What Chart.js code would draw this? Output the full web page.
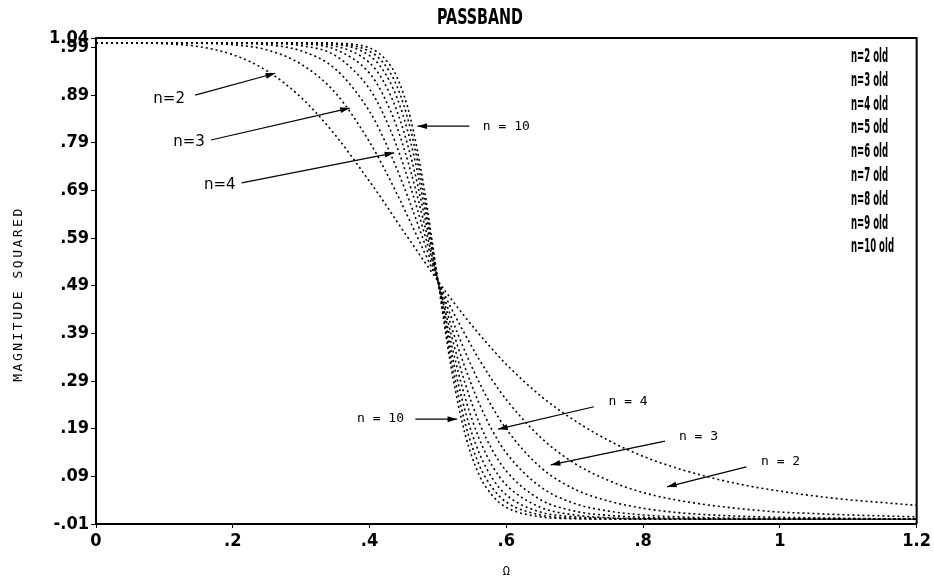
<!DOCTYPE html>
<html>
<head>
<meta charset="utf-8">
<script src="https://cdn.jsdelivr.net/npm/chart.js@4.4.1/dist/chart.umd.min.js"></script>
<style>
  html, body { margin: 0; padding: 0; background: #fff; }
  #wrap { width: 934px; height: 579px; }
</style>
</head>
<body>
<div id="wrap"><canvas id="grafico"></canvas></div>
<script>
// === dados ===
var omega = [0, 0.05, 0.1, 0.15, 0.2, 0.25, 0.3, 0.35, 0.4, 0.42, 0.44, 0.46, 0.48, 0.5,
  0.52, 0.54, 0.56, 0.58, 0.6, 0.65, 0.7, 0.75, 0.8, 0.85, 0.9, 0.95, 1.0, 1.05, 1.1, 1.15, 1.2];

var mag2 = [1, 1, 0.998, 0.992, 0.975, 0.941, 0.885, 0.806, 0.709, 0.668, 0.625, 0.583, 0.541, 0.5,
  0.461, 0.424, 0.389, 0.356, 0.325, 0.259, 0.207, 0.165, 0.132, 0.107, 0.087, 0.071, 0.059, 0.049, 0.041, 0.035, 0.029];
var mag3 = [1, 1, 1, 0.999, 0.996, 0.985, 0.955, 0.895, 0.792, 0.74, 0.683, 0.623, 0.561, 0.5,
  0.441, 0.387, 0.336, 0.291, 0.251, 0.172, 0.117, 0.081, 0.056, 0.04, 0.029, 0.021, 0.015, 0.012, 0.009, 0.007, 0.005];
var mag4 = [1, 1, 1, 1, 0.999, 0.996, 0.983, 0.945, 0.856, 0.801, 0.735, 0.661, 0.581, 0.5,
  0.422, 0.351, 0.288, 0.234, 0.189, 0.109, 0.063, 0.038, 0.023, 0.014, 0.009, 0.006, 0.004, 0.003, 0.002, 0.001, 0.001];
var mag5 = [1, 1, 1, 1, 1, 0.999, 0.994, 0.973, 0.903, 0.851, 0.782, 0.697, 0.601, 0.5,
  0.403, 0.317, 0.244, 0.185, 0.139, 0.068, 0.033, 0.017, 0.009, 0.005, 0.003, 0.002, 0.001, 0.001, 0, 0, 0];
var mag6 = [1, 1, 1, 1, 1, 1, 0.998, 0.986, 0.936, 0.89, 0.823, 0.731, 0.62, 0.5,
  0.384, 0.284, 0.204, 0.144, 0.101, 0.041, 0.017, 0.008, 0.004, 0.002, 0.001, 0, 0, 0, 0, 0, 0];
var mag7 = [1, 1, 1, 1, 1, 1, 0.999, 0.993, 0.958, 0.92, 0.857, 0.763, 0.639, 0.5,
  0.366, 0.254, 0.17, 0.111, 0.072, 0.025, 0.009, 0.003, 0.001, 0.001, 0, 0, 0, 0, 0, 0, 0];
var mag8 = [1, 1, 1, 1, 1, 1, 1, 0.997, 0.973, 0.942, 0.885, 0.792, 0.658, 0.5,
  0.348, 0.226, 0.14, 0.085, 0.051, 0.015, 0.005, 0.002, 0.001, 0, 0, 0, 0, 0, 0, 0, 0];
var mag9 = [1, 1, 1, 1, 1, 1, 1, 0.998, 0.982, 0.958, 0.909, 0.818, 0.676, 0.5,
  0.33, 0.2, 0.115, 0.065, 0.036, 0.009, 0.002, 0.001, 0, 0, 0, 0, 0, 0, 0, 0, 0];
var mag10 = [1, 1, 1, 1, 1, 1, 1, 0.999, 0.989, 0.97, 0.928, 0.841, 0.693, 0.5,
  0.313, 0.177, 0.094, 0.049, 0.025, 0.005, 0.001, 0, 0, 0, 0, 0, 0, 0, 0, 0, 0];

var seriesLabels = ['n=2 old', 'n=3 old', 'n=4 old', 'n=5 old', 'n=6 old', 'n=7 old', 'n=8 old', 'n=9 old', 'n=10 old'];
var seriesValues = [mag2, mag3, mag4, mag5, mag6, mag7, mag8, mag9, mag10];

var xTickValues = [0, 0.2, 0.4, 0.6, 0.8, 1, 1.2];
var xTickLabels = ['0', '.2', '.4', '.6', '.8', '1', '1.2'];
var yTickValues = [-0.01, 0.09, 0.19, 0.29, 0.39, 0.49, 0.59, 0.69, 0.79, 0.89, 0.99, 1.01];
var yTickLabels = ['-.01', '.09', '.19', '.29', '.39', '.49', '.59', '.69', '.79', '.89', '.99', '1.04'];

// setas com texto (coordenadas em unidades dos eixos)
var notas = [
  { txt: 'n=2',    tx: 0.107, ty: 0.882, x1: 0.145, y1: 0.890, x2: 0.262, y2: 0.936, big: true },
  { txt: 'n=3',    tx: 0.136, ty: 0.792, x1: 0.168, y1: 0.796, x2: 0.371, y2: 0.863, big: true },
  { txt: 'n=4',    tx: 0.181, ty: 0.701, x1: 0.213, y1: 0.706, x2: 0.436, y2: 0.769, big: true },
  { txt: 'n = 10', tx: 0.600, ty: 0.825, x1: 0.546, y1: 0.825, x2: 0.470, y2: 0.825 },
  { txt: 'n = 10', tx: 0.416, ty: 0.212, x1: 0.467, y1: 0.210, x2: 0.528, y2: 0.210 },
  { txt: 'n = 4',  tx: 0.778, ty: 0.246, x1: 0.728, y1: 0.236, x2: 0.588, y2: 0.189 },
  { txt: 'n = 3',  tx: 0.881, ty: 0.173, x1: 0.832, y1: 0.164, x2: 0.665, y2: 0.114 },
  { txt: 'n = 2',  tx: 1.001, ty: 0.120, x1: 0.951, y1: 0.110, x2: 0.835, y2: 0.068 }
];

var familia = "'DejaVu Sans Condensed', 'Liberation Sans Narrow', sans-serif";
var fonteEixo = { family: familia, size: 18, weight: 'bold' };

var datasets = seriesValues.map(function (vals, k) {
  return {
    label: seriesLabels[k],
    data: omega.map(function (x, i) { return { x: x, y: vals[i] }; }),
    borderColor: '#000',
    borderWidth: 1.6,
    borderDash: [2, 3],
    pointRadius: 0,
    fill: false,
    cubicInterpolationMode: 'monotone'
  };
});

function seta(ctx, x1, y1, x2, y2) {
  var a = Math.atan2(y2 - y1, x2 - x1);
  ctx.beginPath();
  ctx.moveTo(x1, y1);
  ctx.lineTo(x2, y2);
  ctx.stroke();
  ctx.beginPath();
  ctx.moveTo(x2, y2);
  ctx.lineTo(x2 - 10 * Math.cos(a - 0.3), y2 - 10 * Math.sin(a - 0.3));
  ctx.lineTo(x2 - 10 * Math.cos(a + 0.3), y2 - 10 * Math.sin(a + 0.3));
  ctx.closePath();
  ctx.fill();
}

// texto estreito: comprime na horizontal até a largura pedida
function textoEstreito(ctx, txt, x, y, largura, alinhar) {
  var w = ctx.measureText(txt).width;
  var k = Math.min(1, largura / w);
  ctx.save();
  ctx.translate(x, y);
  ctx.scale(k, 1);
  ctx.textAlign = alinhar;
  ctx.fillText(txt, 0, 0);
  ctx.restore();
  return k;
}

var extras = {
  id: 'extras',
  afterDraw: function (chart) {
    var ctx = chart.ctx, a = chart.chartArea;
    var sx = chart.scales.x, sy = chart.scales.y;
    ctx.save();
    ctx.strokeStyle = '#000';
    ctx.fillStyle = '#000';
    // moldura
    ctx.lineWidth = 2;
    ctx.beginPath();
    ctx.moveTo(a.left, a.top);
    ctx.lineTo(a.right, a.top);
    ctx.lineTo(a.right, a.bottom);
    ctx.stroke();

    ctx.textBaseline = 'middle';
    // título
    ctx.font = "bold 22px " + familia;
    textoEstreito(ctx, 'PASSBAND', 480, 18, 86, 'center');

    // legenda (só texto)
    ctx.font = "bold 19px " + familia;
    var k = Math.min(1, 43 / ctx.measureText(seriesLabels[seriesLabels.length - 1]).width);
    chart.data.datasets.forEach(function (ds, i) {
      ctx.save();
      ctx.translate(851, 57 + i * 23.8);
      ctx.scale(k, 1);
      ctx.textAlign = 'left';
      ctx.fillText(ds.label, 0, 0);
      ctx.restore();
    });

    // títulos dos eixos
    ctx.font = "12px 'DejaVu Sans Mono', monospace";
    ctx.textAlign = 'center';
    ctx.fillText('\u03A9', (a.left + a.right) / 2, 572);
    ctx.save();
    ctx.translate(19, 294);
    ctx.rotate(-Math.PI / 2);
    ctx.font = "13px 'DejaVu Sans Mono', monospace";
    ctx.letterSpacing = '2.5px';
    ctx.fillText('MAGNITUDE SQUARED', 0, 0);
    ctx.restore();

    // setas
    ctx.lineWidth = 1.2;
    notas.forEach(function (n) {
      ctx.font = n.big ? "15px 'DejaVu Sans', sans-serif" : "13px 'DejaVu Sans Mono', monospace";
      ctx.textAlign = 'center';
      ctx.fillText(n.txt, sx.getPixelForValue(n.tx), sy.getPixelForValue(n.ty));
      seta(ctx, sx.getPixelForValue(n.x1), sy.getPixelForValue(n.y1),
        sx.getPixelForValue(n.x2), sy.getPixelForValue(n.y2));
    });
    ctx.restore();
  }
};

new Chart(document.getElementById('grafico'), {
  type: 'line',
  data: { datasets: datasets },
  options: {
    responsive: true,
    maintainAspectRatio: false,
    animation: false,
    layout: { padding: { top: 38, right: 10, left: 0, bottom: 0 } },
    plugins: {
      legend: { display: false },
      title: { display: false },
      tooltip: { enabled: false }
    },
    scales: {
      x: {
        type: 'linear',
        min: 0,
        max: 1.2,
        afterBuildTicks: function (s) { s.ticks = xTickValues.map(function (v) { return { value: v }; }); },
        afterFit: function (s) { s.height = 55; },
        ticks: {
          color: '#000',
          font: fonteEixo,
          padding: 3,
          maxRotation: 0,
          callback: function (v, i) { return xTickLabels[i]; }
        },
        grid: { display: true, drawOnChartArea: false, color: '#000', tickLength: 4 },
        border: { color: '#000', width: 2 }
      },
      y: {
        type: 'linear',
        min: -0.01,
        max: 1.01,
        afterBuildTicks: function (s) { s.ticks = yTickValues.map(function (v) { return { value: v }; }); },
        afterFit: function (s) { s.width = 96; },
        ticks: {
          color: '#000',
          font: fonteEixo,
          padding: 2,
          callback: function (v, i) { return yTickLabels[i]; }
        },
        grid: { display: true, drawOnChartArea: false, color: '#000', tickLength: 5 },
        border: { color: '#000', width: 2 }
      }
    }
  },
  plugins: [extras]
});
</script>
</body>
</html>
